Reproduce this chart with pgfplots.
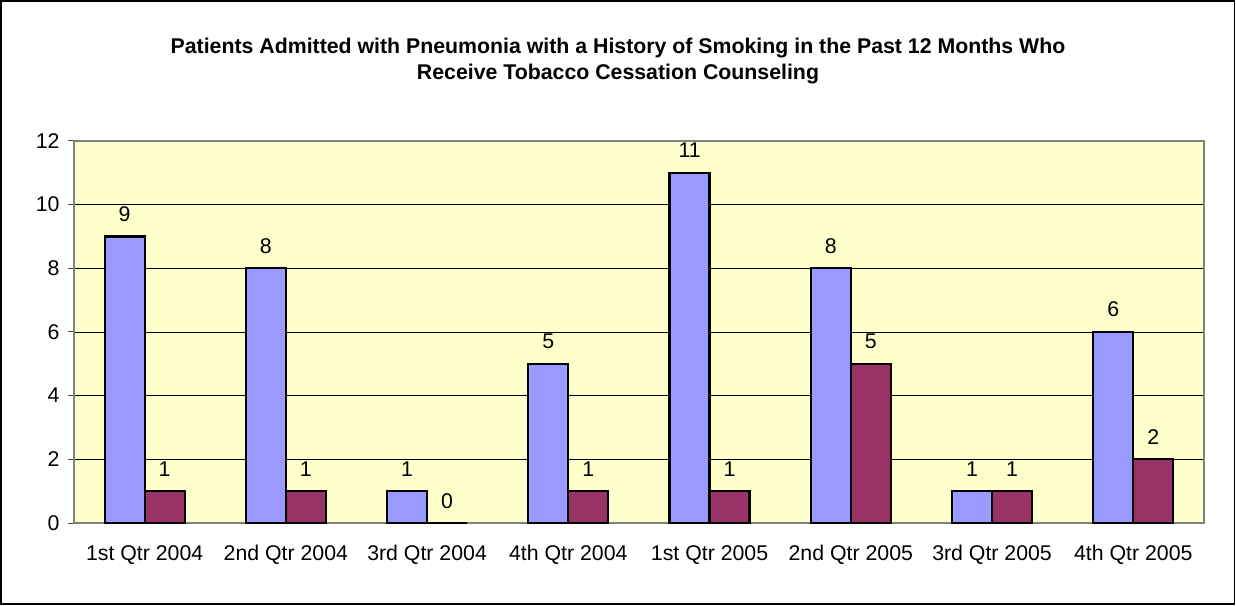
\documentclass[border=0pt]{standalone}
\usepackage{fontspec}
\setmainfont{Liberation Sans}
\usepackage{pgfplots}
\pgfplotsset{compat=1.18}
\definecolor{xlblue}{HTML}{9999FF}
\definecolor{xlplum}{HTML}{993366}
\definecolor{xlback}{HTML}{FFFFCC}
\begin{document}
\begin{tikzpicture}[x=1pt,y=1pt]
\path[use as bounding box] (0,0) rectangle (1236,605);
\draw[black, line width=1.2pt] (1,1) rectangle (1234.5,604);
\node[font=\fontsize{21.3}{26}\selectfont\bfseries, align=center] at (618,544)
  {Patients Admitted with Pneumonia with a History of Smoking in the Past 12 Months Who\\Receive Tobacco Cessation Counseling};
\begin{axis}[
  at={(74pt,82pt)}, anchor=south west,
  scale only axis, width=1130pt, height=382pt,
  ybar=0pt, bar width=40pt,
  xmin=-0.5, xmax=7.5, ymin=0, ymax=12,
  ytick={0,2,...,12},
  xtick={0,...,7},
  xticklabels={1st Qtr 2004,2nd Qtr 2004,3rd Qtr 2004,4th Qtr 2004,1st Qtr 2005,2nd Qtr 2005,3rd Qtr 2005,4th Qtr 2005},
  x tick style={draw=none},
  extra x ticks={-0.5,0.5,...,7.5},
  extra x tick labels={},
  extra x tick style={tick style={draw=black!70, line width=1pt}, major tick length=7pt, tick align=outside},
  ytick style={draw=black!70, line width=1pt},
  major tick length=6pt, tick align=outside,
  ymajorgrids, grid style={black, line width=0.8pt},
  axis background/.style={fill=xlback},
  axis line style={draw=black!50, line width=1.6pt},
  tick pos=left,
  ticklabel style={font=\fontsize{21.3}{25}\selectfont},
  /pgf/number format/assume math mode=true,
  xticklabel style={yshift=-13pt},
  yticklabel style={xshift=-5pt},
  nodes near coords,
  every node near coord/.append style={font=\fontsize{21.3}{25}\selectfont, anchor=base, yshift=15pt, inner sep=0pt},
]
\addplot[draw=black, line width=2.2pt, fill=xlblue]
  coordinates {(0,9) (1,8) (2,1) (3,5) (4,11) (5,8) (6,1) (7,6)};
\addplot[draw=black, line width=2.2pt, fill=xlplum]
  coordinates {(0,1) (1,1) (2,0) (3,1) (4,1) (5,5) (6,1) (7,2)};
\end{axis}
\end{tikzpicture}
\end{document}
